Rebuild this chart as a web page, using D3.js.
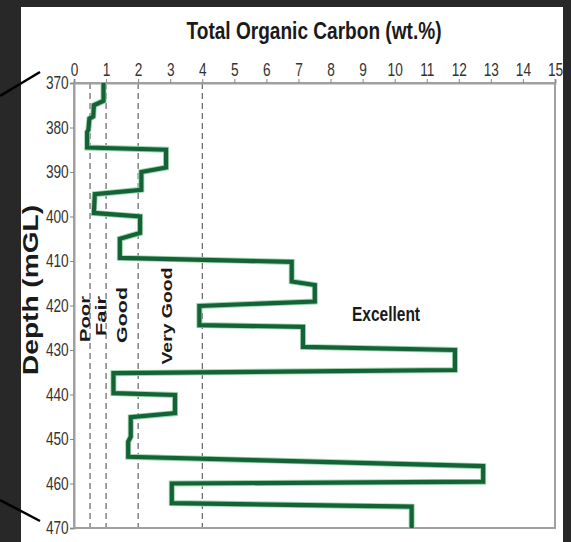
<!DOCTYPE html>
<html><head><meta charset="utf-8">
<script src="https://cdn.jsdelivr.net/npm/d3@7"></script>
<style>body{margin:0;background:#282828;} svg{display:block;}</style>
</head><body>
<script>
// Data
const depth = [370,374,375,377.5,378,380.5,381,384.5,385,389,390,394,395,399.2,400,403.7,405,409.3,410.2,414.6,415.4,419.1,420.1,424.4,424.8,429.3,430,434.5,435.2,439.7,440.1,444.2,445.1,449.5,450.6,454,456.1,459.6,460,464.4,465.2,470];
const toc   = [0.92,0.92,0.62,0.60,0.48,0.45,0.41,0.41,2.87,2.87,2.1,2.1,0.65,0.62,2.06,2.06,1.43,1.43,6.79,6.79,7.51,7.51,3.91,3.91,7.14,7.14,11.88,11.88,1.23,1.23,3.15,3.15,1.77,1.77,1.69,1.69,12.76,12.76,3.05,3.05,10.53,10.53];
const xTicks = [0,1,2,3,4,5,6,7,8,9,10,11,12,13,14,15];
const yTicks = [370,380,390,400,410,420,430,440,450,460,470];
const thresholds = [0.5,1,2,4];
const classLabels = ["Poor","Fair","Good","Very Good","Excellent"];
const xTitle = "Total Organic Carbon (wt.%)";
const yTitle = "Depth (mGL)";

const W=571,H=542;
const svg=d3.select("body").append("svg").attr("width",W).attr("height",H);
svg.append("rect").attr("width",W).attr("height",H).attr("fill","#282828");
svg.append("rect").attr("x",21).attr("y",7).attr("width",542).attr("height",H-7).attr("fill","#ffffff");

const x=d3.scaleLinear().domain([0,15]).range([74,555]);
const y=d3.scaleLinear().domain([370,470]).range([83,528]);
const sans="'Liberation Sans',Arial,sans-serif";

// threshold dashed lines
svg.selectAll("line.th").data(thresholds).join("line")
  .attr("x1",d=>x(d)).attr("x2",d=>x(d)).attr("y1",y(370)).attr("y2",y(470))
  .attr("stroke","#444").attr("stroke-width",1).attr("stroke-dasharray","6,4");

// frame
svg.append("rect").attr("x",x(0)).attr("y",y(370)).attr("width",x(15)-x(0)).attr("height",y(470)-y(370))
  .attr("fill","none").attr("stroke","#a0a0a0").attr("stroke-width",2);

// axes
const xAxis=d3.axisTop(x).tickValues(xTicks).tickSize(4).tickPadding(3).tickFormat(d3.format("d"));
const gx=svg.append("g").attr("transform",`translate(0,${y(370)})`).call(xAxis);
const yAxis=d3.axisLeft(y).tickValues(yTicks).tickSize(4).tickPadding(3).tickFormat(d3.format("d"));
const gy=svg.append("g").attr("transform",`translate(${x(0)},0)`).call(yAxis);
[gx,gy].forEach(g=>{
  g.select(".domain").attr("stroke","#a0a0a0").attr("stroke-width",2);
  g.selectAll(".tick line").attr("stroke","#888");
  g.selectAll(".tick text").attr("fill","#333").style("font-family",sans).style("font-size","18px")
    .attr("transform","scale(0.76,1)");
});

// TOC line
const line=d3.line().x((d,i)=>x(toc[i])).y((d,i)=>y(depth[i]));
svg.append("path").datum(depth).attr("d",line).attr("fill","none")
  .attr("stroke","#9fd3ae").attr("stroke-width",6).attr("stroke-linejoin","miter");
svg.append("path").datum(depth).attr("d",line).attr("fill","none")
  .attr("stroke","#136337").attr("stroke-width",4.2).attr("stroke-linejoin","miter");

// class labels (rotated)
const rot=[{t:classLabels[0],x:90,y:319,len:46},{t:classLabels[1],x:105.5,y:316,len:40},{t:classLabels[2],x:127,y:315,len:56},{t:classLabels[3],x:172,y:316,len:97}];
rot.forEach(r=>{
  svg.append("text").attr("transform",`translate(${r.x},${r.y}) rotate(-90)`)
    .attr("text-anchor","middle").attr("fill","#1a1a1a")
    .style("font-family",sans).style("font-weight","bold").style("font-size","15px")
    .attr("textLength",r.len).attr("lengthAdjust","spacingAndGlyphs").text(r.t);
});
svg.append("text").attr("x",386).attr("y",321).attr("text-anchor","middle").attr("fill","#1a1a1a")
  .style("font-family",sans).style("font-weight","bold").style("font-size","20px")
  .attr("textLength",68).attr("lengthAdjust","spacingAndGlyphs").text(classLabels[4]);

// titles
svg.append("text").attr("x",314).attr("y",39).attr("text-anchor","middle").attr("fill","#1a1a1a")
  .style("font-family",sans).style("font-weight","bold").style("font-size","23px")
  .attr("textLength",255).attr("lengthAdjust","spacingAndGlyphs").text(xTitle);
svg.append("text").attr("transform","translate(38,290) rotate(-90)").attr("text-anchor","middle").attr("fill","#1a1a1a")
  .style("font-family",sans).style("font-weight","bold").style("font-size","22px")
  .attr("textLength",170).attr("lengthAdjust","spacingAndGlyphs").text(yTitle);

// annotation lines on the dark margin
svg.append("line").attr("x1",0).attr("y1",96).attr("x2",40).attr("y2",72).attr("stroke","#000").attr("stroke-width",2.5);
svg.append("line").attr("x1",0).attr("y1",500).attr("x2",40).attr("y2",521).attr("stroke","#000").attr("stroke-width",2.5);
</script>
</body></html>
